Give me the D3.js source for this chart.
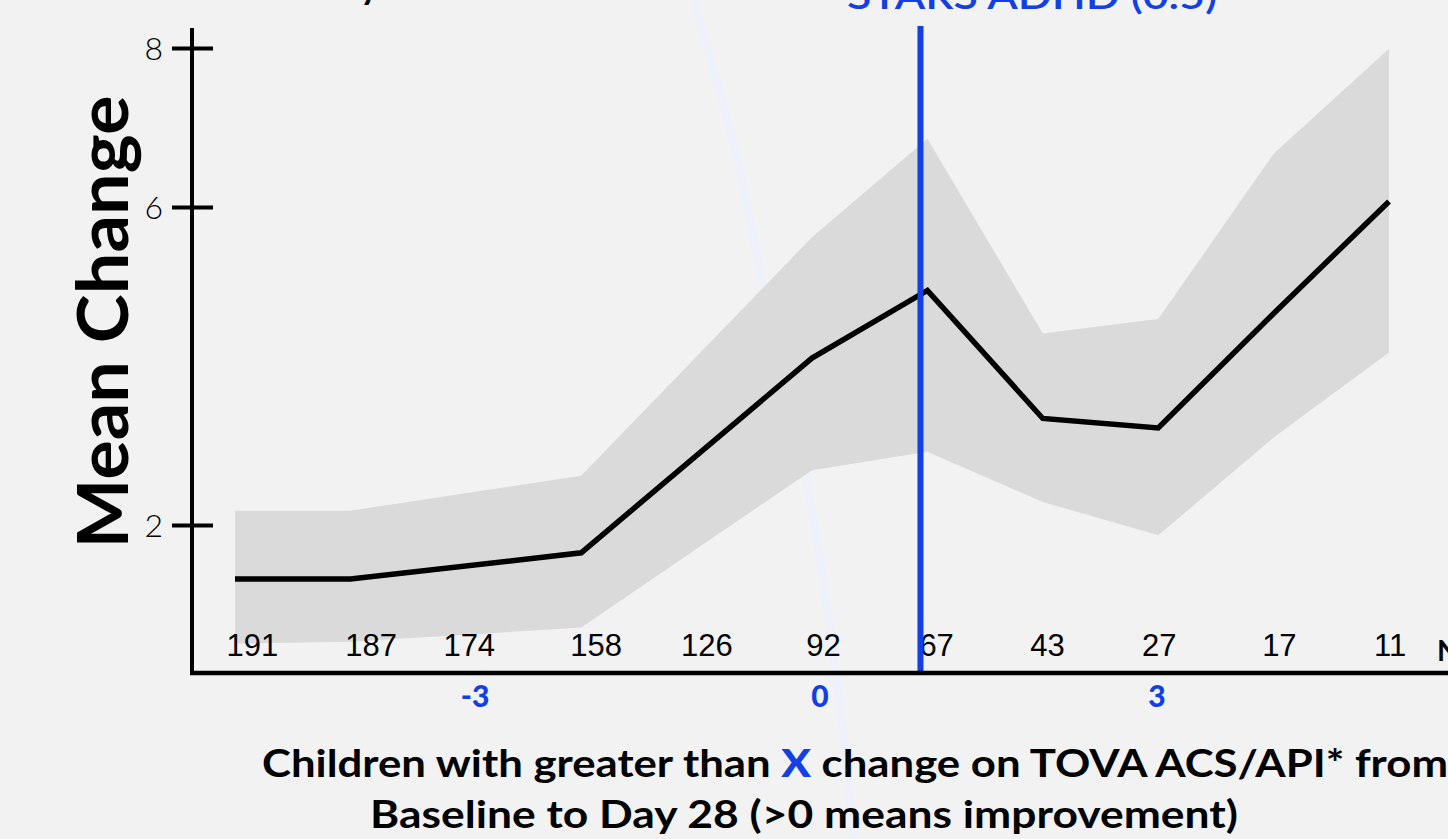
<!DOCTYPE html>
<html>
<head>
<meta charset="utf-8">
<script src="https://cdn.jsdelivr.net/npm/d3@7"></script>
<style>
  html, body { margin: 0; padding: 0; background: #f2f2f2; overflow: hidden; }
  svg { display: block; }
</style>
</head>
<body>
<div class="chart"></div>
<script>
'use strict';

// x value (threshold of change on TOVA) for each point
const thresholds = [-5, -4, -2, 0, 1, 2, 3, 4, 5];
const meanChange = [1.32, 1.32, 1.65, 4.10, 4.95, 3.34, 3.22, 4.66, 6.07];
const upperCI    = [2.18, 2.18, 2.62, 5.62, 6.86, 4.41, 4.59, 6.67, 7.99];
const lowerCI    = [0.51, 0.53, 0.71, 2.69, 2.92, 2.29, 1.87, 3.10, 4.17];

// sample sizes shown above the x axis
const countLabels = ["191", "187", "174", "158", "126", "92", "67", "43", "27", "17", "11"];
const countPos    = [-4.85, -3.82, -2.97, -1.87, -0.91, 0.10, 1.08, 2.04, 3.01, 4.05, 5.01];

const xTickLabels = ["-3", "0", "3"];
const xTickPos    = [-2.92, 0.07, 2.99];
const yTickValues = [2, 6, 8];

const starsX = 0.94;
const starsLabel = "STARS ADHD (0.5)";

(function() {

    let svg = "";
    const width = 1448, height = 839;

    window.onload = function() {
        svg = d3.select('.chart')
                .append('svg').attr('width', width).attr('height', height);
        draw();
    }

    function draw() {
        let data = thresholds.map((t, i) => ({x: t, m: meanChange[i], hi: upperCI[i], lo: lowerCI[i]}));

        let x = d3.scaleLinear().domain([-5, 5]).range([235, 1389]);
        let y = d3.scaleLinear().domain([2, 8]).range([525, 48]);
        let axisX = 192, axisY = 673;

        svg.append("rect").attr("width", width).attr("height", height).attr("fill", "#f2f2f2");

        // faint arc in the background
        let arcPts = [[693, 0], [735, 150], [766, 300], [800, 450], [826, 600], [845, 750], [853, 839]];
        svg.append("path")
            .attr("d", d3.line().curve(d3.curveNatural)(arcPts))
            .attr("fill", "none")
            .attr("stroke", "#eef1fb")
            .attr("stroke-width", 8);

        // confidence band
        svg.append("path")
            .datum(data)
            .attr("fill", "#dadada")
            .attr("d", d3.area()
                .x(d => x(d.x))
                .y0(d => y(d.lo))
                .y1(d => y(d.hi)));

        // count labels
        svg.append("g").selectAll("text")
            .data(countLabels)
            .enter()
            .append("text")
                .attr("x", (d, i) => x(countPos[i]))
                .attr("y", 656)
                .attr("text-anchor", "middle")
                .style("font-family", "'Liberation Sans', Arial, sans-serif")
                .style("font-size", "31px")
                .attr("fill", "#000")
                .text(d => d);

        svg.append("text")
            .attr("x", 1437).attr("y", 661)
            .style("font-family", "Lato, sans-serif")
            .style("font-size", "29px").style("font-weight", 700)
            .text("N");

        // mean line
        svg.append("path")
            .datum(data)
            .attr("fill", "none")
            .attr("stroke", "#000")
            .attr("stroke-width", 5.5)
            .attr("stroke-linejoin", "miter")
            .attr("d", d3.line().x(d => x(d.x)).y(d => y(d.m)));

        // STARS ADHD threshold
        svg.append("line")
            .attr("x1", x(starsX)).attr("x2", x(starsX))
            .attr("y1", 26).attr("y2", axisY)
            .attr("stroke", "#1240e6")
            .attr("stroke-width", 6);

        svg.append("text")
            .attr("x", 1032).attr("y", 9)
            .attr("text-anchor", "middle")
            .attr("textLength", 370)
            .attr("lengthAdjust", "spacingAndGlyphs")
            .style("font-family", "Lato, sans-serif")
            .style("font-size", "36px").style("font-weight", 600)
            .attr("fill", "#1240e6")
            .text(starsLabel);

        // clipped bit of a title above the plot
        svg.append("text")
            .attr("x", 360).attr("y", -1)
            .style("font-family", "Lato, sans-serif")
            .style("font-size", "36px").style("font-weight", 700)
            .text("y");

        // y axis
        let yAxis = svg.append("g")
            .attr("transform", "translate(" + axisX + ",0)")
            .call(d3.axisLeft(y).tickValues(yTickValues).tickFormat(d3.format("d")).tickSize(20).tickPadding(30));
        yAxis.select(".domain").remove();
        yAxis.selectAll(".tick line")
            .attr("x1", 21).attr("x2", -20)
            .attr("stroke", "#000").attr("stroke-width", 4);
        yAxis.selectAll(".tick text")
            .attr("x", -29)
            .attr("dy", "0.35em")
            .style("font-family", "Lato, sans-serif")
            .style("font-size", "32px").style("font-weight", 300)
            .attr("fill", "#000");
        svg.append("line")
            .attr("x1", axisX).attr("x2", axisX)
            .attr("y1", 28).attr("y2", axisY + 2)
            .attr("stroke", "#000").attr("stroke-width", 4);

        // x axis
        svg.append("line")
            .attr("x1", axisX - 2).attr("x2", width)
            .attr("y1", axisY).attr("y2", axisY)
            .attr("stroke", "#000").attr("stroke-width", 4.5);

        svg.append("g").selectAll("text")
            .data(xTickLabels)
            .enter()
            .append("text")
                .attr("x", (d, i) => x(xTickPos[i]))
                .attr("y", 707)
                .attr("text-anchor", "middle")
                .style("font-family", "Lato, sans-serif")
                .style("font-size", "30px").style("font-weight", 900)
                .attr("fill", "#1240e6")
                .text(d => d);

        // axis titles
        svg.append("text")
            .attr("transform", "translate(128," + 322 + ") rotate(-90)")
            .attr("text-anchor", "middle")
            .attr("textLength", 453)
            .attr("lengthAdjust", "spacingAndGlyphs")
            .style("font-family", "Lato, sans-serif")
            .style("font-size", "70px").style("font-weight", 700)
            .text("Mean Change");

        let t1 = svg.append("text")
            .attr("x", 262).attr("y", 777)
            .attr("textLength", 1186)
            .attr("lengthAdjust", "spacingAndGlyphs")
            .style("font-family", "Lato, sans-serif")
            .style("font-size", "38px").style("font-weight", 700);
        t1.append("tspan").text("Children with greater than ");
        t1.append("tspan").attr("fill", "#1240e6").style("font-weight", 900).text("X");
        t1.append("tspan").text(" change on TOVA ACS/API* from");

        svg.append("text")
            .attr("x", 370).attr("y", 828)
            .attr("textLength", 868)
            .attr("lengthAdjust", "spacingAndGlyphs")
            .style("font-family", "Lato, sans-serif")
            .style("font-size", "38px").style("font-weight", 700)
            .text("Baseline to Day 28 (>0 means improvement)");
    }
})();
</script>
</body>
</html>
